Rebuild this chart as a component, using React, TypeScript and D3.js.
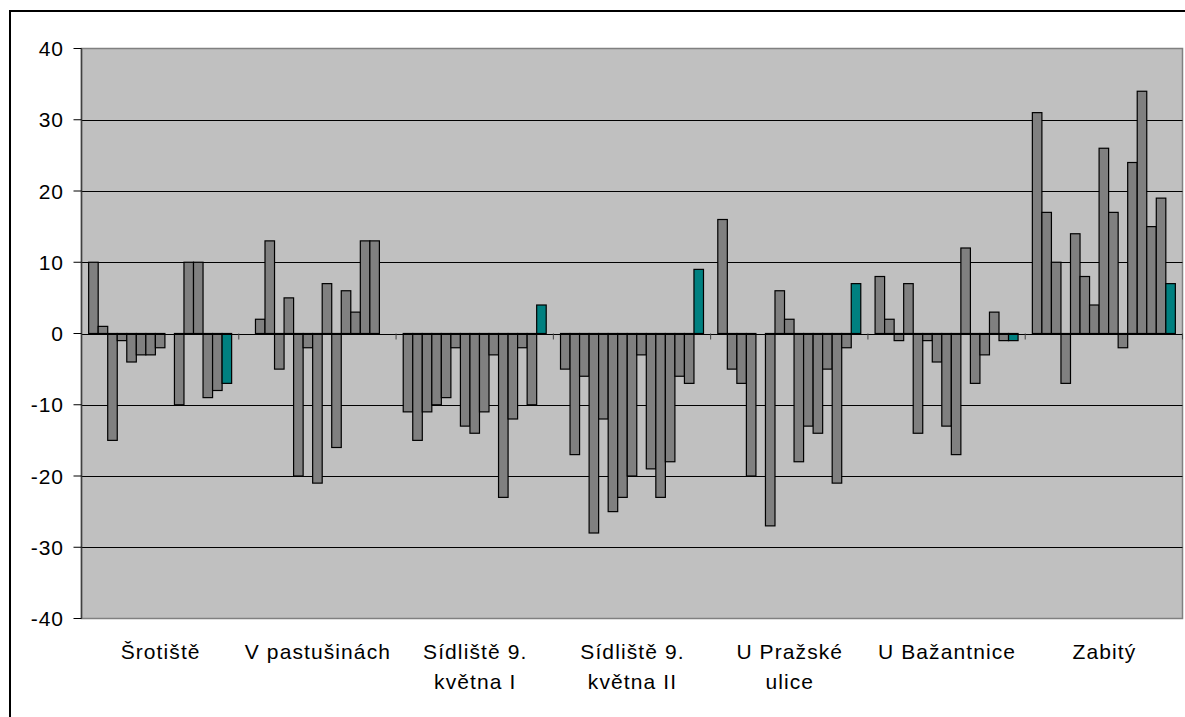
import React from "react";
import * as d3 from "d3";

// Category labels (line breaks as in the reference)
const categories = [
  "Šrotiště",
  "V pastušinách",
  "Sídliště 9.\nkvětna I",
  "Sídliště 9.\nkvětna II",
  "U Pražské\nulice",
  "U Bažantnice",
  "Zabitý",
];

// Values of the 15 series per category (null = no bar)
const srotiste = [10, 1, -15, -1, -4, -3, -3, -2, null, -10, 10, 10, -9, -8, -7];
const vPastusinach = [null, 2, 13, -5, 5, -20, -2, -21, 7, -16, 6, 3, 13, 13, null];
const sidlisteI = [-11, -15, -11, -10, -9, -2, -13, -14, -11, -3, -23, -12, -2, -10, 4];
const sidlisteII = [-5, -17, -6, -28, -12, -25, -23, -20, -3, -19, -23, -18, -6, -7, 9];
const uPrazskeUlice = [16, -5, -7, -20, null, -27, 6, 2, -18, -13, -14, -5, -21, -2, 7];
const uBazantnice = [8, 2, -1, 7, -14, -1, -4, -13, -17, 12, -7, -3, 3, -1, -1];
const zabity = [31, 17, 10, -7, 14, 8, 4, 26, 17, -2, 24, 34, 15, 19, 7];

const yTicks = [40, 30, 20, 10, 0, -10, -20, -30, -40];

const W = 1185;
const H = 717;
const left = 81.5;
const right = 1182.5;
const top = 48.5;
const bottom = 618.5;
const FONT = "'Liberation Sans', Arial, sans-serif";

export default function App() {
  const table = [srotiste, vPastusinach, sidlisteI, sidlisteII, uPrazskeUlice, uBazantnice, zabity];
  const nSeries = srotiste.length;
  const x0 = d3.scaleBand<string>().domain(categories).range([left, right]).padding(0);
  const x1 = d3
    .scaleBand<string>()
    .domain(d3.range(nSeries).map(String))
    .range([0, x0.bandwidth()])
    .paddingInner(0)
    .paddingOuter(0.75);
  const y = d3.scaleLinear().domain([-40, 40]).range([bottom, top]);
  const y0 = y(0);

  const boundaries = d3.range(categories.length + 1).map((i) => left + i * x0.bandwidth());

  return (
    <svg
      width={W}
      height={H}
      style={{ position: "absolute", left: 0, top: 0, background: "#fff" }}
      fontFamily={FONT}
    >
      <rect x={10} y={11} width={1300} height={800} fill="#fff" stroke="#000" strokeWidth={2} />
      {/* plot area */}
      <rect x={left} y={top} width={right - left} height={bottom - top} fill="#C0C0C0" stroke="#808080" strokeWidth={1.5} />
      {/* gridlines */}
      {yTicks
        .filter((t) => t !== 40 && t !== -40)
        .map((t) => (
          <line key={"g" + t} x1={left} x2={right} y1={Math.round(y(t)) + 0.5} y2={Math.round(y(t)) + 0.5} stroke="#000" strokeWidth={1} />
        ))}
      {/* bars */}
      {table.map((vals, ci) =>
        vals.map((v, si) => {
          if (v === null || v === undefined) return null;
          const bx = (x0(categories[ci]) as number) + (x1(String(si)) as number);
          const yv = y(v);
          return (
            <rect
              key={ci + "-" + si}
              x={bx}
              width={x1.bandwidth()}
              y={Math.min(yv, y0)}
              height={Math.abs(yv - y0)}
              fill={si === nSeries - 1 ? "#008080" : "#808080"}
              stroke="#000"
              strokeWidth={1.2}
            />
          );
        })
      )}
      {/* category axis at zero */}
      <line x1={left} x2={right} y1={Math.round(y0) + 0.5} y2={Math.round(y0) + 0.5} stroke="#000" strokeWidth={1.2} />
      {boundaries.map((b, i) => (
        <line key={"ct" + i} x1={b} x2={b} y1={y0} y2={y0 + 6} stroke="#404040" strokeWidth={1} />
      ))}
      {/* value axis */}
      <line x1={left} x2={left} y1={top} y2={bottom} stroke="#404040" strokeWidth={1.5} />
      {yTicks.map((t) => (
        <g key={"yt" + t}>
          <line x1={left - 8} x2={left} y1={y(t)} y2={y(t)} stroke="#000" strokeWidth={1} />
          <text x={64} y={y(t) + 7.5} textAnchor="end" fontSize={21} letterSpacing={1} fill="#000">
            {t}
          </text>
        </g>
      ))}
      {/* category labels */}
      {categories.map((c) => {
        const cx = (x0(c) as number) + x0.bandwidth() / 2;
        const lines = c.split("\n");
        return (
          <text key={c} x={cx} textAnchor="middle" fontSize={21} letterSpacing={1.1} fill="#000">
            {lines.map((l, i) => (
              <tspan key={i} x={cx + 0.5} y={659 + i * 30}>
                {l}
              </tspan>
            ))}
          </text>
        );
      })}
    </svg>
  );
}
